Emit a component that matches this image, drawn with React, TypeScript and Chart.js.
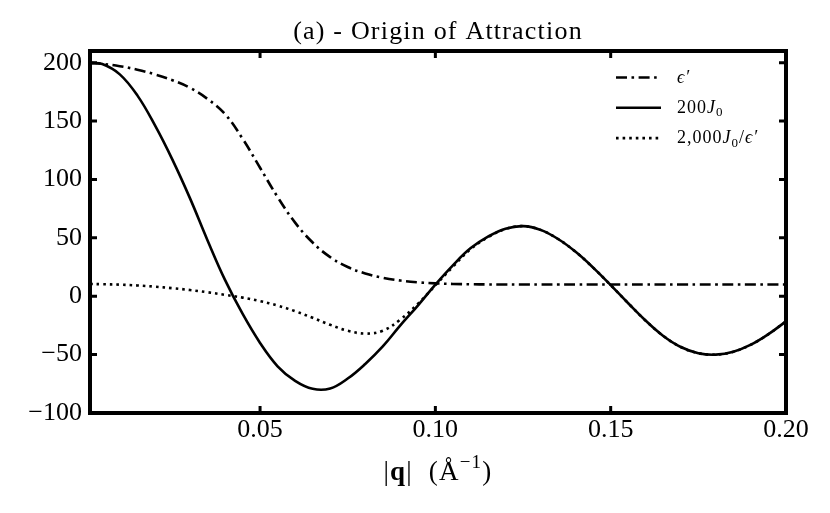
import { useEffect, useRef } from "react";
import { Chart, registerables } from "chart.js";

Chart.register(...registerables);

const SERIF = '"Liberation Serif", "DejaVu Serif", serif';

// |q| in 1/Å
const qValues = [
  0.0015, 0.005, 0.01, 0.015, 0.02, 0.025, 0.03, 0.035, 0.04, 0.045, 0.05,
  0.055, 0.06, 0.065, 0.07, 0.075, 0.08, 0.085, 0.09, 0.095, 0.1, 0.105, 0.11,
  0.115, 0.12, 0.125, 0.13, 0.135, 0.14, 0.145, 0.15, 0.155, 0.16, 0.165, 0.17,
  0.175, 0.18, 0.185, 0.19, 0.195, 0.2,
];

// epsilon'
const epsPrime = [
  199.8, 199, 197, 194, 190, 185, 178.5, 169, 156, 135, 110, 85, 63, 46, 33.5,
  25, 19.5, 15.8, 13.4, 11.9, 11, 10.5, 10.25, 10.1, 10.05, 10, 10, 10, 10, 10,
  10, 10, 10, 10, 10, 10, 10, 10, 10, 10, 10,
];

// 200 J0
const j0Scaled = [
  199.8, 198.8, 190, 172, 146.5, 117, 84, 48, 14, -15, -40, -60, -72.5, -79.3,
  -79, -70.5, -58, -43, -25, -8, 10, 26.5, 41, 51, 57.8, 60, 56.8, 49, 38,
  24.5, 9.5, -6, -21, -34, -43.5, -48.8, -50, -47.5, -41.5, -32.5, -21.5,
];

// 2,000 J0 / epsilon'
const j0OverEps = [
  10.5, 10.3, 9.9, 9.2, 8.2, 6.9, 5.3, 3.4, 1.2, -1.2, -4.2, -8, -12.8, -18.5,
  -24.5, -29.5, -32, -29.5, -20, -6.5, 9.3, 25.3, 40.2, 50.5, 57.5, 60, 56.8,
  49, 38, 24.5, 9.5, -6, -21, -34, -43.5, -48.8, -50, -47.5, -41.5, -32.5,
  -21.5,
];

const xTickValues = [0.05, 0.1, 0.15, 0.2];
const yTickValues = [-100, -50, 0, 50, 100, 150, 200];

type Seg = { t: string; style?: string; scale?: number; dy?: number };

function drawRich(
  ctx: CanvasRenderingContext2D,
  segs: Seg[],
  x: number,
  y: number,
  size: number,
  align: "left" | "center",
  spacing = 0
) {
  const font = (s: Seg) =>
    `${s.style ?? ""} ${Math.round(size * (s.scale ?? 1))}px ${SERIF}`;
  (ctx as any).letterSpacing = `${spacing}px`;
  let w = 0;
  for (const s of segs) {
    ctx.font = font(s);
    w += ctx.measureText(s.t).width;
  }
  let cx = align === "center" ? x - w / 2 : x;
  ctx.textAlign = "left";
  ctx.textBaseline = "alphabetic";
  ctx.fillStyle = "#000";
  for (const s of segs) {
    ctx.font = font(s);
    ctx.fillText(s.t, cx, y + (s.dy ?? 0) * size);
    cx += ctx.measureText(s.t).width;
  }
  (ctx as any).letterSpacing = "0px";
}

const legendRows: { dataset: number; text: Seg[] }[] = [
  { dataset: 1, text: [{ t: "ϵ′", style: "italic" }] },
  {
    dataset: 0,
    text: [
      { t: "200" },
      { t: "J", style: "italic" },
      { t: "0", scale: 0.7, dy: 0.2 },
    ],
  },
  {
    dataset: 2,
    text: [
      { t: "2,000" },
      { t: "J", style: "italic" },
      { t: "0", scale: 0.7, dy: 0.2 },
      { t: "/" },
      { t: "ϵ′", style: "italic" },
    ],
  },
];

const framePlugin = {
  id: "frame",
  afterDraw(chart: any) {
    const { ctx, chartArea: a, scales } = chart;
    ctx.save();
    ctx.strokeStyle = "#000";
    ctx.setLineDash([]);
    ctx.lineWidth = 4;
    ctx.strokeRect(a.left, a.top, a.right - a.left, a.bottom - a.top);

    // inward ticks on all four sides
    ctx.lineWidth = 3;
    ctx.beginPath();
    for (const v of xTickValues) {
      const px = scales.x.getPixelForValue(v);
      ctx.moveTo(px, a.bottom);
      ctx.lineTo(px, a.bottom - 7);
      ctx.moveTo(px, a.top);
      ctx.lineTo(px, a.top + 7);
    }
    for (const v of yTickValues) {
      const py = scales.y.getPixelForValue(v);
      ctx.moveTo(a.left, py);
      ctx.lineTo(a.left + 7, py);
      ctx.moveTo(a.right, py);
      ctx.lineTo(a.right - 7, py);
    }
    ctx.stroke();

    const cx = (a.left + a.right) / 2;
    drawRich(ctx, [{ t: "(a) - Origin of Attraction" }], cx, 39, 26, "center", 1.2);
    drawRich(
      ctx,
      [
        { t: "|" },
        { t: "q", style: "bold" },
        { t: "|  (Å" },
        { t: "−1", scale: 0.7, dy: -0.45 },
        { t: ")" },
      ],
      cx,
      480,
      27,
      "center",
      1.2
    );

    // legend
    legendRows.forEach((row, i) => {
      const ds = chart.data.datasets[row.dataset];
      const ly = 77.5 + i * 30.3;
      ctx.beginPath();
      ctx.lineWidth = ds.borderWidth;
      ctx.setLineDash(ds.borderDash ?? []);
      ctx.moveTo(616, ly);
      ctx.lineTo(661, ly);
      ctx.stroke();
      ctx.setLineDash([]);
      drawRich(ctx, row.text, 677, ly + 5, 18, "left", 1);
    });
    ctx.restore();
  },
};

export default function App() {
  const canvasRef = useRef<HTMLCanvasElement | null>(null);

  useEffect(() => {
    if (!canvasRef.current) {
      return;
    }
    document.body.style.margin = "0";

    const toPoints = (ys: number[]) => qValues.map((x, i) => ({ x, y: ys[i] }));
    const tickFont = { family: SERIF, size: 26 };

    const chart = new Chart(canvasRef.current, {
      type: "line",
      data: {
        datasets: [
          {
            label: "200J0",
            data: toPoints(j0Scaled),
            borderColor: "#000",
            borderWidth: 2.6,
            borderDash: [],
          },
          {
            label: "eps'",
            data: toPoints(epsPrime),
            borderColor: "#000",
            borderWidth: 2.6,
            borderDash: [11, 4.5, 2.6, 4.5],
          },
          {
            label: "2000J0/eps'",
            data: toPoints(j0OverEps),
            borderColor: "#000",
            borderWidth: 2.6,
            borderDash: [2.6, 4],
          },
        ],
      },
      options: {
        animation: false,
        responsive: true,
        maintainAspectRatio: false,
        layout: { padding: { top: 51, right: 44, bottom: 0, left: 0 } },
        elements: {
          point: { radius: 0 },
          line: { tension: 0.4, fill: false },
        },
        plugins: {
          legend: { display: false },
          title: { display: false },
          tooltip: { enabled: false },
        },
        scales: {
          x: {
            type: "linear",
            min: 0.0015,
            max: 0.2,
            grid: { display: false, drawTicks: false },
            border: { display: false },
            afterBuildTicks: (s: any) => {
              s.ticks = xTickValues.map((value) => ({ value }));
            },
            afterFit: (s: any) => {
              s.height = 100;
            },
            ticks: {
              font: tickFont,
              color: "#000",
              padding: 2,
              maxRotation: 0,
              callback: (v: any) => Number(v).toFixed(2),
            },
          },
          y: {
            min: -100,
            max: 210,
            grid: { display: false, drawTicks: false },
            border: { display: false },
            afterBuildTicks: (s: any) => {
              s.ticks = yTickValues.map((value) => ({ value }));
            },
            afterFit: (s: any) => {
              s.width = 90;
            },
            ticks: {
              font: tickFont,
              color: "#000",
              padding: 8,
              callback: (v: any) =>
                Number(v) < 0 ? "−" + Math.abs(Number(v)) : String(v),
            },
          },
        },
      },
      plugins: [framePlugin],
    });

    return () => {
      chart.destroy();
    };
  }, []);

  return (
    <div style={{ position: "fixed", left: 0, top: 0, width: 830, height: 513, background: "#fff" }}>
      <canvas ref={canvasRef}></canvas>
    </div>
  );
}
